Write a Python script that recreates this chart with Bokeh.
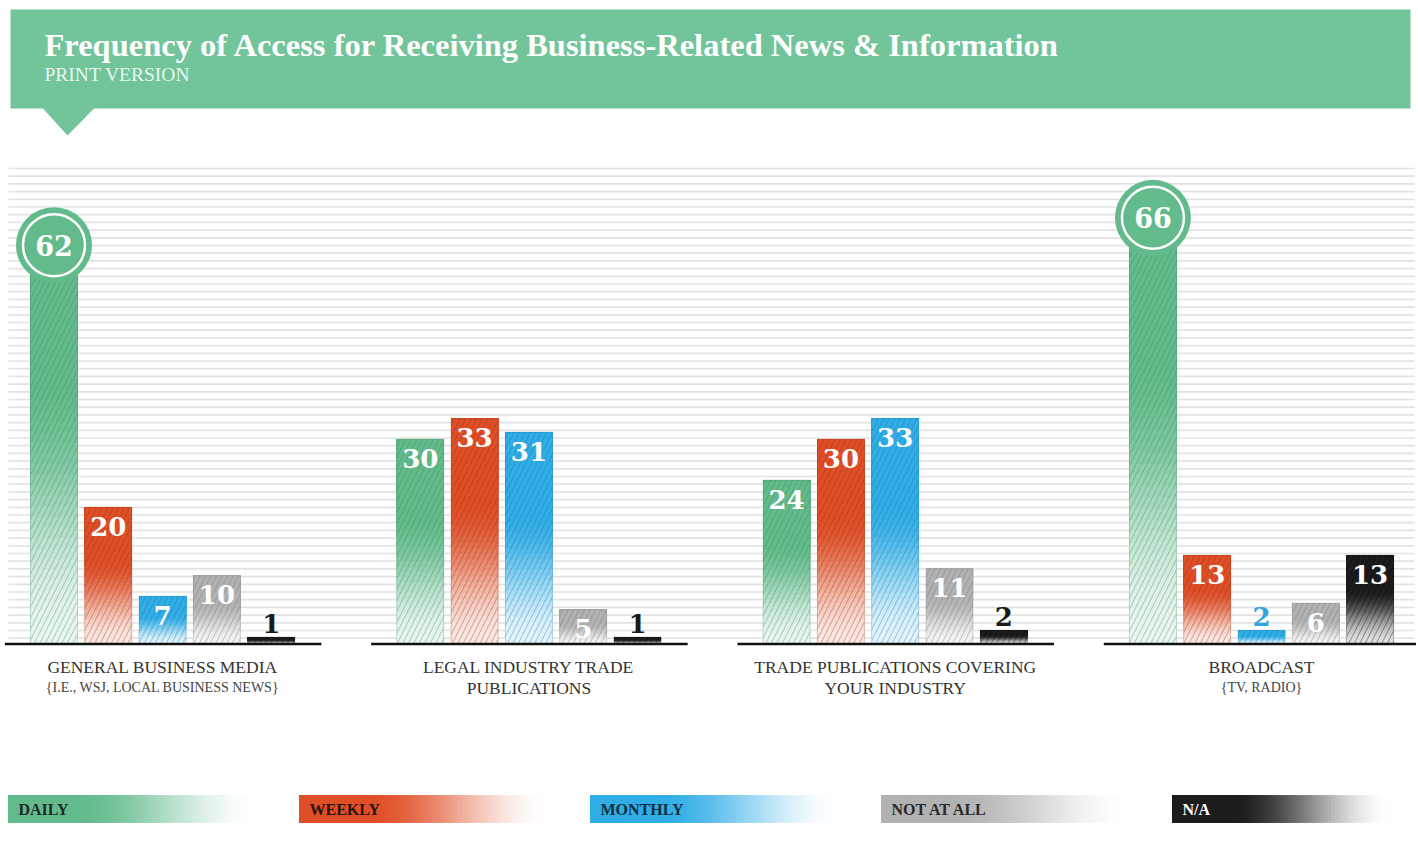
import numpy as np
from bokeh.plotting import figure
from bokeh.models import Range1d, ColumnDataSource, Label
from bokeh.core.properties import value
from bokeh.embed import file_html
from bokeh.resources import INLINE

# ---------------- data ----------------
title = "Frequency of Access for Receiving Business-Related News & Information"
subtitle = "PRINT VERSION"
categories = ["GENERAL BUSINESS MEDIA", "LEGAL INDUSTRY TRADE PUBLICATIONS",
              "TRADE PUBLICATIONS COVERING YOUR INDUSTRY", "BROADCAST"]
category_lines = [["GENERAL BUSINESS MEDIA"],
                  ["LEGAL INDUSTRY TRADE", "PUBLICATIONS"],
                  ["TRADE PUBLICATIONS COVERING", "YOUR INDUSTRY"],
                  ["BROADCAST"]]
category_notes = ["{I.E., WSJ, LOCAL BUSINESS NEWS}", "", "", "{TV, RADIO}"]
series = ["DAILY", "WEEKLY", "MONTHLY", "NOT AT ALL", "N/A"]
daily = [62, 30, 24, 66]
weekly = [20, 33, 30, 13]
monthly = [7, 31, 33, 2]
not_at_all = [10, 5, 11, 6]
na = [1, 1, 2, 13]
values_by_series = [daily, weekly, monthly, not_at_all, na]

# ---------------- style ----------------
colors = ["#63bb8d", "#df4f27", "#31ade6", "#b2b2b2", "#1c1c1c"]
hatch_colors = ["#2f7d55", "#8a2a10", "#136c9a", "#6a6a6a", "#000000"]
small_label_colors = ["#4aa877", "#df4f27", "#2ea6df", "#555555", "#1a1a1a"]
legend_text_colors = ["#1d2b24", "#2a120a", "#10303f", "#2a2a2a", "#ffffff"]
header_color = "#72c49a"
SERIF = "Liberation Serif"
NUMFONT = "DejaVu Serif"

W, H = 1416, 859
X0, SX = 53.5, 54.3      # screen x of first bar centre, px per slot
GSTEP = 6.746            # slots between group starts
Y0, SY = 643.5, 6.83     # screen y of baseline, px per unit
BW = 47.0 / SX


def xd(sx):
    return (sx - X0) / SX


def yd(sy):
    return (Y0 - sy) / SY


def blend(hexcol, a):
    h = hexcol.lstrip("#")
    r, g, b = int(h[0:2], 16), int(h[2:4], 16), int(h[4:6], 16)
    r = round(255 - a * (255 - r))
    g = round(255 - a * (255 - g))
    b = round(255 - a * (255 - b))
    return "#%02x%02x%02x" % (r, g, b)


def smooth(s):
    s = min(max(s, 0.0), 1.0)
    return s * s * (3 - 2 * s)


def bar_alpha(t):
    return 0.13 + 0.87 * smooth(t / 0.62)


def legend_alpha(u):
    if u < 0.25:
        return 1.0
    return 1.0 - smooth((u - 0.25) / 0.70)


p = figure(width=W, height=H, x_range=Range1d(xd(0), xd(W)),
           y_range=Range1d(yd(H), yd(0)), output_backend="svg",
           toolbar_location=None, x_axis_location=None, y_axis_location=None,
           min_border=0, title=None)
p.grid.visible = False
p.outline_line_color = None
p.background_fill_color = "white"
p.border_fill_color = "white"

# background stripes
sy = np.arange(168, 640, 7.7)
p.segment(x0=[xd(8)] * len(sy), x1=[xd(1414)] * len(sy), y0=yd(sy), y1=yd(sy),
          line_color="#e3e3e3", line_width=1.7)

# bars with vertical gradient
N = 40
gl, gr, gb, gt, gc = [], [], [], [], []
hl, hr, ht, hc = [], [], [], []
for g in range(len(categories)):
    for j, vals in enumerate(values_by_series):
        v = vals[g]
        xc = g * GSTEP + j
        for k in range(N):
            gl.append(xc - BW / 2)
            gr.append(xc + BW / 2)
            gb.append(v * k / N)
            gt.append(v)
            gc.append(blend(colors[j], bar_alpha((k + 0.5) / N)))
        hl.append(xc - BW / 2)
        hr.append(xc + BW / 2)
        ht.append(v)
        hc.append(hatch_colors[j])

p.quad(left=gl, right=gr, bottom=gb, top=gt, fill_color=gc, line_color=None)
p.quad(source=ColumnDataSource(dict(l=hl, r=hr, t=ht, b=[0] * len(ht), c=hc)),
       left="l", right="r", top="t", bottom="b", fill_alpha=0,
       hatch_pattern="/", hatch_color="c", hatch_alpha=0.38, hatch_scale=11,
       hatch_weight=1, line_color="c", line_alpha=0.25, line_width=1)

# baselines
bx0 = [g * GSTEP - 0.5 - 22 / SX for g in range(len(categories))]
bx1 = [g * GSTEP + 4.5 + 23 / SX for g in range(len(categories))]
p.segment(x0=bx0, x1=bx1, y0=[0] * 4, y1=[0] * 4, line_color="#111111", line_width=2.5)

# value labels
in_x, in_y, in_t = [], [], []
sm_x, sm_y, sm_t, sm_c = [], [], [], []
ci_x, ci_y, ci_t = [], [], []
for g in range(len(categories)):
    for j, vals in enumerate(values_by_series):
        v = vals[g]
        xc = g * GSTEP + j
        if v >= 50:
            ci_x.append(xc)
            ci_y.append(v - 3.6)
            ci_t.append(str(v))
        elif v >= 4:
            in_x.append(xc)
            in_y.append(v - 19 / SY)
            in_t.append(str(v))
        else:
            sm_x.append(xc)
            sm_y.append(v + 4 / SY)
            sm_t.append(str(v))
            sm_c.append(small_label_colors[j])

p.text(x=in_x, y=in_y, text=in_t, text_font=value(NUMFONT), text_font_style="bold",
       text_font_size="26px", text_color="white", text_align="center",
       text_baseline="middle")
p.text(x=sm_x, y=sm_y, text=sm_t, text_color=sm_c, text_font=value(NUMFONT),
       text_font_style="bold", text_font_size="26px", text_align="center",
       text_baseline="bottom")
p.scatter(x=ci_x, y=ci_y, size=76, marker="circle", fill_color=colors[0], line_color=None)
p.scatter(x=ci_x, y=ci_y, size=62, marker="circle", fill_alpha=0, line_color="white",
          line_width=2.5)
p.text(x=ci_x, y=ci_y, text=ci_t, text_font=value(NUMFONT), text_font_style="bold",
       text_font_size="27px", text_color="white", text_align="center",
       text_baseline="middle")

# category labels
cx, cy, ct = [], [], []
nx, ny, nt = [], [], []
for g in range(len(categories)):
    xc = g * GSTEP + 2
    for li, line in enumerate(category_lines[g]):
        cx.append(xc)
        cy.append(yd(666 + 21 * li))
        ct.append(line)
    if category_notes[g]:
        nx.append(xc)
        ny.append(yd(687))
        nt.append(category_notes[g])
p.text(x=cx, y=cy, text=ct, text_font=value(SERIF), text_font_size="17.5px",
       text_color="#333333", text_align="center", text_baseline="middle")
p.text(x=nx, y=ny, text=nt, text_font=value(SERIF), text_font_size="14px",
       text_color="#444444", text_align="center", text_baseline="middle")

# legend (gradient bands)
NL = 60
ll, lr, lb, lt, lc = [], [], [], [], []
tx, ty, tt, tc = [], [], [], []
for i, name in enumerate(series):
    L = 8 + i * 291
    LW = min(264, 1404 - L)
    for k in range(NL):
        u_r = 1 - k / NL
        ll.append(xd(L))
        lr.append(xd(L + LW * u_r))
        lb.append(yd(822))
        lt.append(yd(795))
        lc.append(blend(colors[i], legend_alpha(u_r - 0.5 / NL)))
    tx.append(xd(L + 10))
    ty.append(yd(809))
    tt.append(name)
    tc.append(legend_text_colors[i])
p.quad(left=ll, right=lr, bottom=lb, top=lt, fill_color=lc, line_color=None)
p.text(x=tx, y=ty, text=tt, text_color=tc, text_font=value(SERIF), text_font_style="bold",
       text_font_size="16px", text_align="left", text_baseline="middle")

# header band
p.quad(left=[xd(10)], right=[xd(1410)], top=[yd(9)], bottom=[yd(108)],
       fill_color=header_color, line_color=None)
p.patch(x=[xd(42), xd(94), xd(67)], y=[yd(107.5), yd(107.5), yd(135)],
        fill_color=header_color, line_color=None)
p.add_layout(Label(x=xd(44), y=yd(44), text=title, text_font=SERIF,
                   text_font_style="bold", text_font_size="32.5px", text_color="white",
                   text_baseline="middle"))
p.add_layout(Label(x=xd(44), y=yd(74), text=subtitle, text_font=SERIF,
                   text_font_size="19.5px", text_color="#e9f6ef",
                   text_baseline="middle"))

open("out.html", "w").write(file_html(p, INLINE))
